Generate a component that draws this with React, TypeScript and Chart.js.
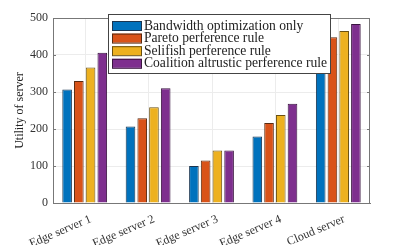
import React, { useEffect, useRef } from "react";
import { Chart, registerables } from "chart.js";

Chart.register(...registerables);

const categories = ["Edge server 1", "Edge server 2", "Edge server 3", "Edge server 4", "Cloud server"];
const seriesNames = [
  "Bandwidth optimization only",
  "Pareto perference rule",
  "Selifish perference rule",
  "Coalition altrustic perference rule",
];
const bandwidthOnly = [307, 207, 100, 180, 420];
const pareto = [330, 229, 115, 216, 448];
const selfish = [366, 259, 142, 238, 465];
const coalition = [406, 310, 142, 268, 484];
const yTicks = [0, 100, 200, 300, 400, 500];

const colors = ["#0072BD", "#D95319", "#EDB120", "#7E2F8E"];
const borders = ["#1a3550", "#5a2a10", "#6a5010", "#3a1540"];
const FONT = "'Liberation Serif', 'Times New Roman', serif";

export default function App() {
  const ref = useRef<HTMLCanvasElement | null>(null);
  useEffect(() => {
    document.body.style.margin = "0";
    const values = [bandwidthOnly, pareto, selfish, coalition];
    const boxPlugin = {
      id: "boxAndLegend",
      beforeDatasetsDraw(chart: any) {
        const ctx = chart.ctx;
        const a = chart.chartArea;
        const xs = chart.scales.x;
        ctx.save();
        ctx.strokeStyle = "#ececec";
        ctx.lineWidth = 1;
        categories.forEach((_, i) => {
          const x = Math.round(xs.getPixelForValue(i)) + 0.5;
          ctx.beginPath();
          ctx.moveTo(x, a.top);
          ctx.lineTo(x, a.bottom);
          ctx.stroke();
        });
        ctx.restore();
      },
      afterDraw(chart: any) {
        const ctx = chart.ctx;
        const a = chart.chartArea;
        ctx.save();
        ctx.strokeStyle = "#777";
        ctx.lineWidth = 1;
        ctx.strokeRect(a.left + 0.5, a.top + 0.5, a.right - a.left - 1, a.bottom - a.top);
        const ys = chart.scales.y;
        yTicks.forEach((t) => {
          const y = Math.round(ys.getPixelForValue(t)) + 0.5;
          ctx.beginPath();
          ctx.moveTo(a.left, y);
          ctx.lineTo(a.left + 3, y);
          ctx.moveTo(a.right, y);
          ctx.lineTo(a.right - 3, y);
          ctx.stroke();
        });
        // legend
        const lx = 108, ly = 14, lw = 222, lh = 59;
        ctx.fillStyle = "#fff";
        ctx.fillRect(lx, ly, lw, lh);
        ctx.strokeStyle = "#444";
        ctx.strokeRect(lx + 0.5, ly + 0.5, lw, lh);
        ctx.font = `13.6px ${FONT}`;
        ctx.textBaseline = "middle";
        seriesNames.forEach((name, i) => {
          const cy = ly + 11.5 + i * 12.6;
          ctx.fillStyle = colors[i];
          ctx.fillRect(lx + 4, cy - 4.5, 30, 9);
          ctx.strokeStyle = borders[i];
          ctx.strokeRect(lx + 4.5, cy - 4, 29, 9);
          ctx.fillStyle = "#222";
          ctx.fillText(name, lx + 36, cy + 0.5);
        });
        ctx.restore();
      },
    };
    const chart = new Chart(ref.current as HTMLCanvasElement, {
      type: "bar",
      data: {
        labels: categories,
        datasets: seriesNames.map((name, i) => ({
          label: name,
          data: values[i],
          backgroundColor: colors[i],
          borderColor: borders[i],
          borderWidth: 1,
          barPercentage: 0.82,
          categoryPercentage: 0.74,
        })),
      },
      options: {
        animation: false,
        responsive: false,
        maintainAspectRatio: false,
        layout: { padding: { top: 18, right: 39, left: 0, bottom: 0 } },
        plugins: { legend: { display: false }, tooltip: { enabled: false } },
        scales: {
          x: {
            afterFit(s: any) {
              s.height = 42;
            },
            grid: { display: false },
            border: { color: "#777" },
            ticks: {
              color: "#333",
              font: { family: FONT, size: 12 },
              minRotation: 23,
              maxRotation: 23,
              padding: 1,
              labelOffset: 6,
            },
          },
          y: {
            min: 0,
            max: 500,
            afterFit(s: any) {
              s.width = 53;
            },
            grid: { color: "#ececec", drawTicks: false },
            border: { color: "#777" },
            ticks: {
              stepSize: 100,
              color: "#333",
              font: { family: FONT, size: 12 },
              padding: 5,
            },
            title: {
              display: true,
              text: "Utility of server",
              color: "#222",
              font: { family: FONT, size: 12 },
              padding: { top: 13, bottom: 2 },
            },
          },
        },
      },
      plugins: [boxPlugin],
    });
    return () => chart.destroy();
  }, []);
  return (
    <div style={{ width: 409, height: 245 }}>
      <canvas ref={ref} width={409} height={245} style={{ display: "block" }} />
    </div>
  );
}
